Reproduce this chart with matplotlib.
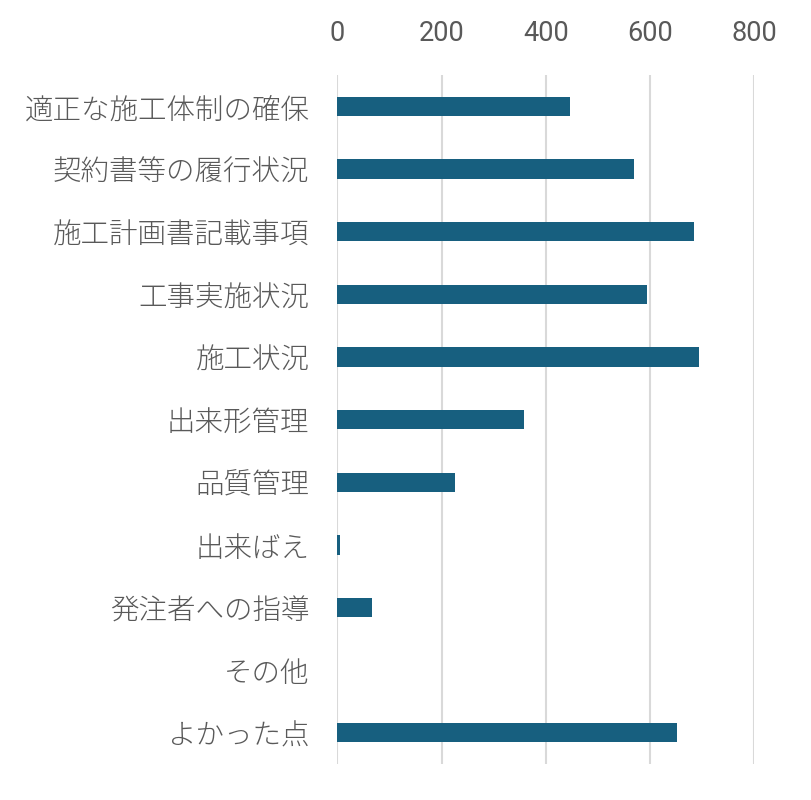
import matplotlib
matplotlib.use("Agg")
import matplotlib.pyplot as plt

plt.rcParams['font.family'] = ['Noto Sans CJK JP', 'DejaVu Sans']

# categories top to bottom and their counts
categories = ["適正な施工体制の確保", "契約書等の履行状況", "施工計画書記載事項", "工事実施状況",
              "施工状況", "出来形管理", "品質管理", "出来ばえ", "発注者への指導", "その他", "よかった点"]
counts = [447, 570, 685, 595, 694, 358, 225, 5, 66, 0, 651]
xticks = [0, 200, 400, 600, 800]

fig = plt.figure(figsize=(8.11, 8.0), dpi=100)
ax = fig.add_axes([0.416, 0.045, 0.514, 0.861])

pos = list(range(len(categories)))
ax.barh(pos, counts, height=0.31, color='#175f7f', zorder=3)

ax.set_ylim(len(categories) - 0.5, -0.5)
ax.set_xlim(0, 800)
ax.set_xticks(xticks)
ax.set_yticks(pos)
ax.set_yticklabels(categories)
ax.xaxis.tick_top()
ax.tick_params(axis='both', length=0, labelsize=20.5, colors='#595959')
ax.tick_params(axis='y', pad=20)
ax.tick_params(axis='x', pad=20)
for lab in ax.get_yticklabels():
    lab.set_fontweight('light')
for lab in ax.get_xticklabels():
    lab.set_family(['Roboto', 'DejaVu Sans'])
    lab.set_fontsize(19.5)
ax.grid(True, axis='x', color='#d9d9d9', linewidth=1.5, zorder=0)
for s in ax.spines.values():
    s.set_visible(False)

fig.savefig("out.png", dpi=100)
